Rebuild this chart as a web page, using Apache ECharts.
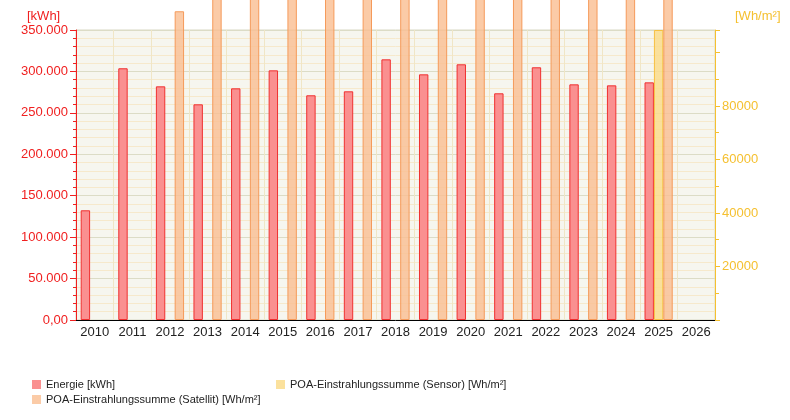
<!DOCTYPE html>
<html><head><meta charset="utf-8">
<script src="https://cdn.jsdelivr.net/npm/echarts@6/dist/echarts.min.js"></script>
<style>html,body{margin:0;padding:0;background:#fff}#c{width:790px;height:420px}</style>
</head><body><div id="c"></div>
<script>
const years = ['2010','2011','2012','2013','2014','2015','2016','2017','2018','2019','2020','2021','2022','2023','2024','2025','2026'];
const energie = [132400,303800,282000,260300,279600,301300,271200,276000,314600,296500,308600,273600,305000,284400,283200,286800,null];
const satellit = [null,null,115400,124000,124000,124000,124000,124000,124000,124000,124000,124000,124000,124000,124000,124000,null];
const sensor = [null,null,null,null,null,null,null,null,null,null,null,null,null,null,null,108400,null];
const rightLabels = [20000,40000,60000,80000];
const names = ['Energie [kWh]','POA-Einstrahlungssumme (Satellit) [Wh/m²]','POA-Einstrahlungssumme (Sensor) [Wh/m²]'];

const chart = echarts.init(document.getElementById('c'), null, {renderer:'canvas'});
const fontFam = 'Liberation Sans, Arial, sans-serif';
chart.setOption({
  animation:false,
  textStyle:{fontFamily:fontFam},
  grid:{left:76,right:75,top:30,bottom:100,show:true,backgroundColor:'#f6f6ef',borderColor:'#d9d9c4',borderWidth:1},
  graphic:[
    {type:'text',left:27,top:10,style:{text:'[kWh]',fill:'#f02020',font:'13px '+fontFam}},
    {type:'text',left:735,top:10,style:{text:'[Wh/m²]',fill:'#f5c030',font:'13px '+fontFam}}
  ],
  legend:[
    {orient:'vertical',left:27,top:374,itemWidth:9,itemHeight:9,itemGap:4,icon:'rect',
     data:[names[0],names[1]],textStyle:{fontSize:11,color:'#222',fontFamily:fontFam},itemStyle:{borderWidth:0}},
    {orient:'vertical',left:271,top:374,itemWidth:9,itemHeight:9,itemGap:4,icon:'rect',
     data:[names[2]],textStyle:{fontSize:11,color:'#222',fontFamily:fontFam},itemStyle:{borderWidth:0}}
  ],
  xAxis:{type:'category',data:years,
    axisLine:{lineStyle:{color:'#000',width:1}},
    axisTick:{inside:true,length:5,interval:0,lineStyle:{color:'#000'}},
    axisLabel:{color:'#222',fontSize:13,margin:6,interval:0,fontFamily:fontFam},
    splitLine:{show:true,interval:0,lineStyle:{color:'#f0e6c6',width:1}}
  },
  yAxis:[
    {type:'value',min:0,max:350000,interval:50000,position:'left',
     axisLine:{show:true,lineStyle:{color:'#f02020'}},
     axisTick:{show:true,length:6,lineStyle:{color:'#f02020'}},
     minorTick:{show:true,splitNumber:5,length:3,lineStyle:{color:'#f02020'}},
     axisLabel:{color:'#f02020',fontSize:13,margin:8,fontFamily:fontFam,
       formatter:v=> v===0 ? '0,00' : v.toLocaleString('de-DE')},
     splitLine:{show:true,lineStyle:{color:'#dcdcc6'}},
     minorSplitLine:{show:true,lineStyle:{color:'#f6e9cc'}}
    },
    {type:'value',min:0,max:108400,interval:20000,position:'right',
     axisLine:{show:true,lineStyle:{color:'#f5c030'}},
     axisTick:{show:true,length:5,lineStyle:{color:'#f5c030'}},
     minorTick:{show:true,splitNumber:2,length:4,lineStyle:{color:'#f5c030'}},
     axisLabel:{color:'#f5c030',fontSize:13,margin:7,fontFamily:fontFam,
       formatter:v=> rightLabels.indexOf(v)>=0 ? String(v) : ''},
     splitLine:{show:false}
    }
  ],
  series:[
    {name:names[0],type:'bar',yAxisIndex:0,data:energie,barWidth:'25%',barGap:'0%',
     itemStyle:{color:'#fa9090',borderColor:'#f03030',borderWidth:1}},
    {name:names[2],type:'bar',yAxisIndex:1,data:sensor,barWidth:'25%',barGap:'0%',clip:true,
     itemStyle:{color:'rgba(250,220,140,0.85)',borderColor:'#f7c040',borderWidth:1}},
    {name:names[1],type:'bar',yAxisIndex:1,data:satellit,barWidth:'25%',barGap:'0%',clip:false,
     itemStyle:{color:'rgba(250,190,145,0.8)',borderColor:'#f59a5a',borderWidth:1}}
  ]
});
</script></body></html>
